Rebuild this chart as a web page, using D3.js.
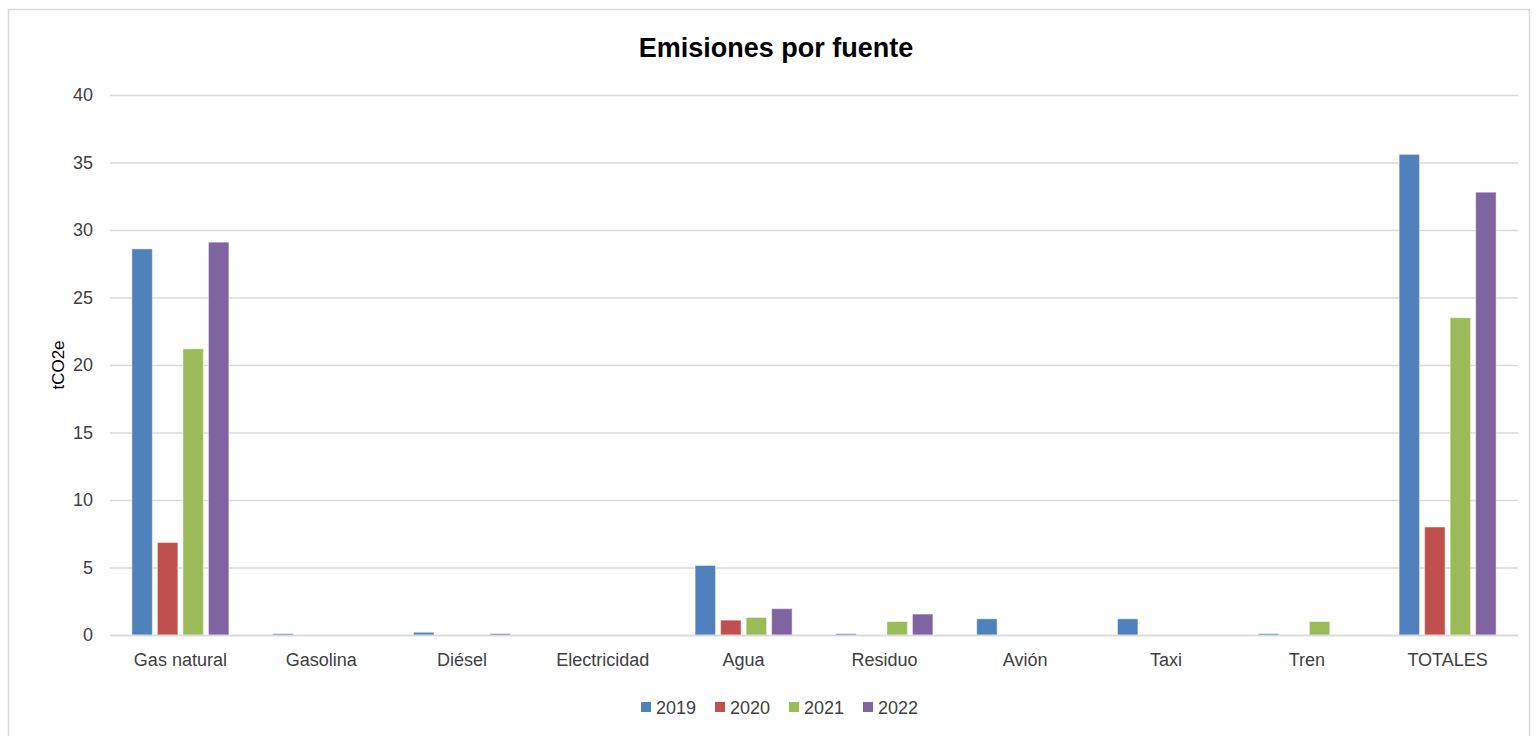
<!DOCTYPE html>
<html>
<head>
<meta charset="utf-8">
<script src="https://cdn.jsdelivr.net/npm/d3@7"></script>
<style>
  html, body { margin: 0; padding: 0; background: #fff; }
  svg { display: block; font-family: "Liberation Sans", "Noto Sans", sans-serif; }
</style>
</head>
<body>
<svg id="chart" width="1537" height="736"></svg>
<script>
// Emissions by source, tCO2e per year
const categories = ["Gas natural", "Gasolina", "Diésel", "Electricidad", "Agua", "Residuo", "Avión", "Taxi", "Tren", "TOTALES"];
const years = ["2019", "2020", "2021", "2022"];
const values2019 = [28.6, 0.1, 0.2, 0, 5.15, 0.1, 1.2, 1.2, 0.1, 35.6];
const values2020 = [6.85, 0, 0, 0, 1.1, 0, 0, 0, 0, 8.0];
const values2021 = [21.2, 0, 0, 0, 1.3, 1.0, 0, 0, 1.0, 23.5];
const values2022 = [29.1, 0, 0.1, 0, 1.95, 1.55, 0, 0, 0, 32.8];
const yTicks = [0, 5, 10, 15, 20, 25, 30, 35, 40];
const colors = ["#4F81BD", "#C0504D", "#9BBB59", "#8064A2"];

const seriesValues = [values2019, values2020, values2021, values2022];
const rows = categories.map((c, i) => ({
  category: c,
  bars: years.map((y, k) => ({ year: y, value: seriesValues[k][i], color: colors[k] }))
}));

const svg = d3.select("#chart");

// outer chart frame
svg.append("rect")
  .attr("x", 8.5).attr("y", 9.5)
  .attr("width", 1521).attr("height", 740)
  .attr("fill", "#fff").attr("stroke", "#d9d9d9").attr("stroke-width", 1.5);

const plot = { left: 110, right: 1518, top: 95, bottom: 635 };

const x0 = d3.scaleBand().domain(categories).range([plot.left, plot.right]);
const groupPad = (x0.bandwidth() - 97) / 2;
const x1 = d3.scaleBand().domain(years).range([groupPad, x0.bandwidth() - groupPad]).paddingInner(0.2);
const y = d3.scaleLinear().domain([0, 40]).range([plot.bottom, plot.top]);

// horizontal gridlines
const yAxis = d3.axisLeft(y).tickValues(yTicks).tickSize(-(plot.right - plot.left)).tickPadding(17);
const gy = svg.append("g").attr("transform", `translate(${plot.left},0)`).call(yAxis);
gy.select(".domain").remove();
gy.selectAll(".tick line").attr("stroke", "#d9d9d9").attr("stroke-width", 1.5);
gy.selectAll(".tick text")
  .attr("fill", "#404040")
  .style("font-size", "18px");

// bars
const groups = svg.append("g").selectAll("g")
  .data(rows).join("g")
  .attr("transform", d => `translate(${x0(d.category)},0)`);

groups.selectAll("rect")
  .data(d => d.bars.filter(b => b.value > 0)).join("rect")
  .attr("x", b => x1(b.year))
  .attr("width", x1.bandwidth())
  .attr("y", b => y(b.value))
  .attr("height", b => y(0) - y(b.value))
  .attr("fill", b => b.color)
  .attr("stroke", "#ffffff")
  .attr("stroke-opacity", 0.45)
  .attr("stroke-width", 1);

// category axis
const xAxis = d3.axisBottom(x0).tickSize(0).tickPadding(18);
const gx = svg.append("g").attr("transform", `translate(0,${plot.bottom})`).call(xAxis);
gx.select(".domain").attr("stroke", "#d9d9d9").attr("stroke-width", 1.5);
gx.selectAll(".tick text")
  .attr("fill", "#404040")
  .style("font-size", "18px");

// title
svg.append("text")
  .attr("x", 776).attr("y", 57)
  .attr("text-anchor", "middle")
  .style("font-size", "27px").style("font-weight", "bold")
  .attr("fill", "#000")
  .text("Emisiones por fuente");

// y-axis title
svg.append("text")
  .attr("transform", "translate(64,365) rotate(-90)")
  .attr("text-anchor", "middle")
  .style("font-size", "17px")
  .attr("fill", "#000")
  .text("tCO2e");

// legend
const legendX = [641, 715, 789, 863];
const legend = svg.append("g").selectAll("g")
  .data(years).join("g")
  .attr("transform", (d, i) => `translate(${legendX[i]},702)`);
legend.append("rect")
  .attr("width", 10).attr("height", 10)
  .attr("fill", (d, i) => colors[i]);
legend.append("text")
  .attr("x", 15).attr("y", 11.5)
  .style("font-size", "18px")
  .attr("fill", "#404040")
  .text(d => d);
</script>
</body>
</html>
